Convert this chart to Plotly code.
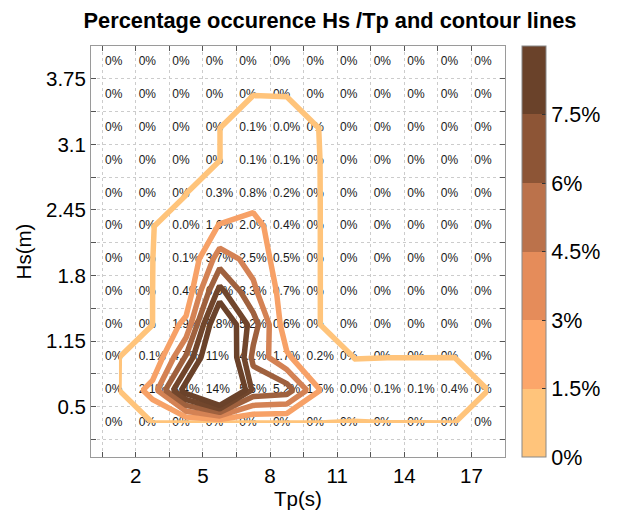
import plotly.graph_objects as go

# Bin centres
tp_bins = [1.25, 2.75, 4.25, 5.75, 7.25, 8.75, 10.25, 11.75, 13.25, 14.75, 16.25, 17.75]
hs_bins = [0.3375, 0.6625, 0.9875, 1.3125, 1.6375, 1.9625, 2.2875, 2.6125,
           2.9375, 3.2625, 3.5875, 3.9125]

# Percentage occurrence, rows listed from top (highest Hs) to bottom (lowest Hs)
row_01 = [0, 0, 0, 0, 0, 0, 0, 0, 0, 0, 0, 0]
row_02 = [0, 0, 0, 0, 0, 0, 0, 0, 0, 0, 0, 0]
row_03 = [0, 0, 0, 0, 0.1, 0.02, 0, 0, 0, 0, 0, 0]
row_04 = [0, 0, 0, 0, 0.1, 0.1, 0, 0, 0, 0, 0, 0]
row_05 = [0, 0, 0, 0.3, 0.8, 0.2, 0, 0, 0, 0, 0, 0]
row_06 = [0, 0, 0.02, 1.6, 2.0, 0.4, 0, 0, 0, 0, 0, 0]
row_07 = [0, 0, 0.1, 3.7, 2.5, 0.5, 0, 0, 0, 0, 0, 0]
row_08 = [0, 0, 0.4, 6.5, 3.3, 0.7, 0, 0, 0, 0, 0, 0]
row_09 = [0, 0, 1.9, 9.8, 5.2, 0.6, 0, 0, 0, 0, 0, 0]
row_10 = [0, 0.1, 4.7, 11, 4.1, 1.7, 0.2, 0, 0, 0, 0, 0]
row_11 = [0, 2.1, 8.4, 14, 5.6, 5.2, 1.5, 0.02, 0.1, 0.1, 0.4, 0]
row_12 = [0, 0, 0, 0, 0, 0, 0, 0, 0, 0, 0, 0]

rows_top_down = [row_01, row_02, row_03, row_04, row_05, row_06,
                 row_07, row_08, row_09, row_10, row_11, row_12]
z = rows_top_down[::-1]  # bottom -> top, matching hs_bins

contour_levels = [0, 1.5, 3, 4.5, 6, 7.5]
cbar_max = 9

x_tickvals = [0.5, 2, 3.5, 5, 6.5, 8, 9.5, 11, 12.5, 14, 15.5, 17, 18.5]
x_ticktext = ["", "2", "", "5", "", "8", "", "11", "", "14", "", "17", ""]
y_tickvals = [0.175, 0.5, 0.825, 1.15, 1.475, 1.8, 2.125, 2.45, 2.775, 3.1, 3.425, 3.75, 4.075]
y_ticktext = ["", "0.5", "", "1.15", "", "1.8", "", "2.45", "", "3.1", "", "3.75", ""]
cbar_tickvals = [0, 1.5, 3, 4.5, 6, 7.5]
cbar_ticktext = ["0%", "1.5%", "3%", "4.5%", "6%", "7.5%"]

colors = ["#FFC47B", "#FCA66A", "#E58C5A", "#BB724B", "#8D5536", "#6A422A"]

X_RANGE = [0, 18.5]
Y_RANGE = [0, 4.075]
FONT = "Liberation Sans, Arial, sans-serif"

# the page body adds an 8px offset, so the figure is drawn 8px smaller
W, H = 610, 507
ML, MT, PW, PH = 83, 38, 416, 416


def fmt(v):
    if v == 0:
        return "0%"
    if v >= 10:
        return f"{v:.0f}%"
    return f"{v:.1f}%"


text_x, text_y, text_s = [], [], []
for j, hs in enumerate(hs_bins):
    for i, tp in enumerate(tp_bins):
        text_x.append(tp - 0.62)
        text_y.append(hs)
        text_s.append(fmt(z[j][i]))

line_scale = [[lv / cbar_max, c] for lv, c in zip(contour_levels, colors)] + [[1.0, colors[-1]]]
disc = []
for k, c in enumerate(colors):
    disc.append([k / 6, c])
    disc.append([(k + 1) / 6, c])

fig = go.Figure()

fig.add_trace(go.Scatter(
    x=text_x, y=text_y, text=text_s, mode="text",
    textposition="middle right",
    textfont=dict(size=12, color="#1a1a1a", family=FONT),
    hoverinfo="skip", showlegend=False,
))

fig.add_trace(go.Contour(
    x=tp_bins, y=hs_bins, z=z,
    xaxis="x2", yaxis="y2",
    autocontour=False,
    contours=dict(coloring="lines", start=contour_levels[0] + 0.001,
                  end=contour_levels[-1] + 0.1, size=1.5),
    line=dict(width=5.5, smoothing=0),
    colorscale=line_scale, zmin=0, zmax=cbar_max,
    showscale=False, hoverinfo="skip",
))

fig.add_trace(go.Scatter(
    x=[None], y=[None], mode="markers", showlegend=False, hoverinfo="skip",
    marker=dict(
        color=[0], cmin=0, cmax=cbar_max, colorscale=disc, showscale=True,
        colorbar=dict(
            x=1.042, xanchor="left", xref="paper",
            y=0.5, yanchor="middle", len=1.0, lenmode="fraction",
            thickness=24, thicknessmode="pixels",
            outlinecolor="#888888", outlinewidth=1,
            tickvals=cbar_tickvals, ticktext=cbar_ticktext,
            ticks="inside", ticklen=4, tickcolor="#333333",
            tickfont=dict(size=21.5, color="black", family=FONT),
            ypad=0, xpad=0,
        ),
    ),
))

axis_common = dict(
    showline=True, linecolor="#9a9a9a", linewidth=1, mirror="ticks",
    ticks="inside", ticklen=5, tickcolor="#555555",
    showgrid=True, gridcolor="#cccccc", griddash="dot", gridwidth=1,
    zeroline=False, tickfont=dict(size=20.5, color="black", family=FONT),
)

fig.update_layout(
    width=W, height=H,
    margin=dict(l=ML, r=W - ML - PW, t=MT, b=H - MT - PH),
    paper_bgcolor="white", plot_bgcolor="white",
    font=dict(family=FONT, color="black"),
    title=dict(text="<b>Percentage occurence Hs /Tp and contour lines</b>",
               x=322 / W, xanchor="center", xref="container",
               y=1 - 12 / H, yanchor="middle", yref="container",
               font=dict(size=21.8, color="black", family=FONT)),
    xaxis=dict(range=X_RANGE, tickmode="array", tickvals=x_tickvals, ticktext=x_ticktext,
               title=dict(text="Tp(s)", font=dict(size=20.5), standoff=2), **axis_common),
    yaxis=dict(range=Y_RANGE, tickmode="array", tickvals=y_tickvals, ticktext=y_ticktext,
               title=dict(text="Hs(m)", font=dict(size=20.5), standoff=8), **axis_common),
    xaxis2=dict(range=X_RANGE, overlaying="x", visible=False, anchor="y2"),
    yaxis2=dict(range=Y_RANGE, overlaying="y", visible=False, anchor="x2"),
    annotations=[dict(text="<b>(c)</b>", xref="paper", yref="paper",
                      x=(303 - ML) / PW, y=1 + (MT + 10) / PH,
                      xanchor="center", yanchor="bottom", showarrow=False,
                      font=dict(size=20, color="black", family=FONT))],
)

fig.write_html("out.html")
